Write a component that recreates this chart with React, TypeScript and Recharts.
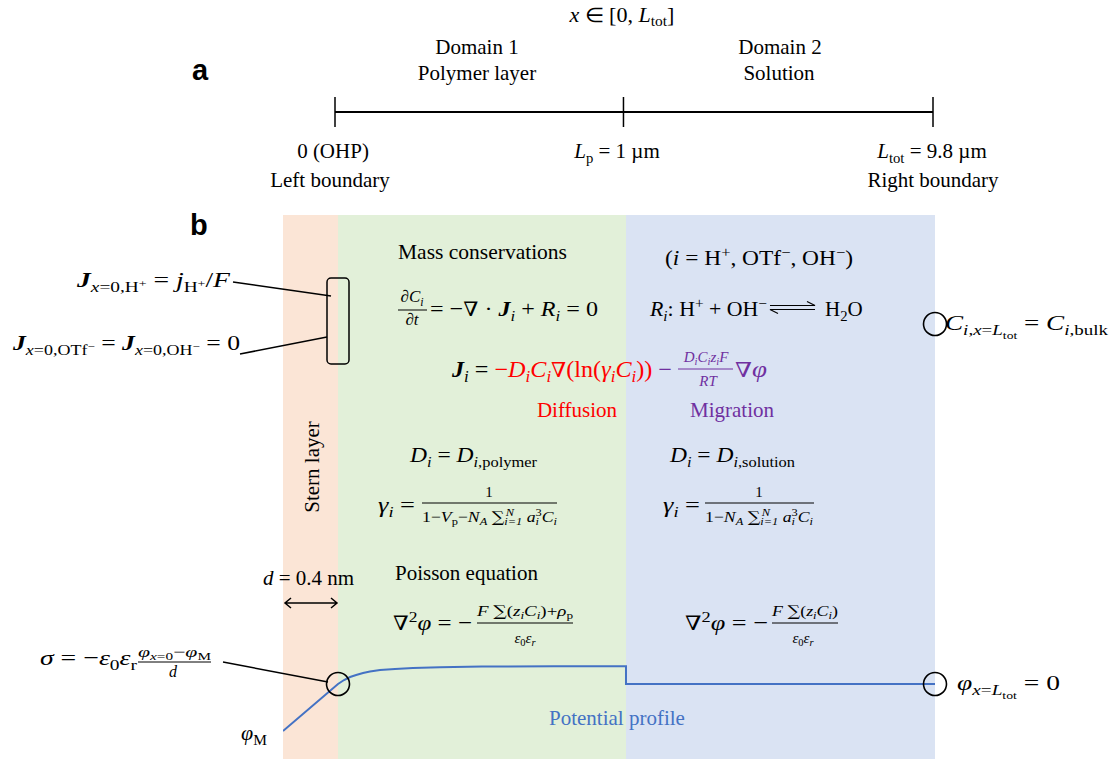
import React from 'react';
import { ComposedChart, Line, XAxis, YAxis, ReferenceArea, ReferenceDot, ReferenceLine } from 'recharts';

const SERIF = "'Liberation Serif', 'Times New Roman', serif";
const SANS = "'Liberation Sans', Arial, sans-serif";
const SYMBOL = "'DejaVu Serif', serif";
const RED = '#FF0000';
const PURPLE = '#7030A0';
const BLUE = '#4472C4';

// ---------- data (schematic units: x in units of L_p, phi arbitrary) ----------
const L_TOT_SCHEMATIC = 2.073;
const STERN_START = -0.191;
const numberLineX = [0, 1, L_TOT_SCHEMATIC];
const regionNames = ['Stern layer', 'Polymer layer', 'Solution'];
const regionEdges = [STERN_START, 0, 1, L_TOT_SCHEMATIC];
const regionColors = ['#FBE5D6', '#E2F0D9', '#DAE3F3'];
const profileX = [-0.191, 0, 0.021, 0.042, 0.063, 0.087, 0.111, 0.146, 0.198, 0.26, 0.354, 0.5, 0.75, 1, 1, 2.073];
const profilePhi = [-0.47, 0, 0.04, 0.07, 0.09, 0.11, 0.125, 0.14, 0.15, 0.16, 0.168, 0.175, 0.177, 0.177, 0, 0];
const boundaryMarkers = [
  { x: 0, phi: 0 },
  { x: L_TOT_SCHEMATIC, phi: 0 },
  { x: L_TOT_SCHEMATIC, phi: 3.6 },
];

const profileData = profileX.map((x, k) => ({ x, phi: profilePhi[k] }));
const numberLineData = numberLineX.map((x) => ({ x, y: 0 }));

// ---------- rich text helper ----------
type Seg = { t: string; i?: boolean; b?: boolean; p?: number; s?: number; c?: string; dx?: number; f?: string };
const N = (t: string, c?: string): Seg => ({ t, c });
const I = (t: string, c?: string): Seg => ({ t, i: true, c });
const B = (t: string, c?: string): Seg => ({ t, i: true, b: true, c });
const SUB = (t: string, i = false, c?: string): Seg => ({ t, p: 0.22, s: 0.7, i, c });
const SUP = (t: string, i = false, c?: string): Seg => ({ t, p: -0.38, s: 0.7, i, c });
const SS = (t: string, i = false): Seg => ({ t, p: 0.4, s: 0.5, i });
const SUBSUP = (t: string): Seg => ({ t, p: 0.02, s: 0.5 });
const NAB = (c?: string): Seg => ({ t: '∇', f: SYMBOL, s: 0.9, c });
const SUM = (): Seg => ({ t: '∑', f: SYMBOL, s: 1.0 });

function Rich(props: {
  x: number; y: number; size: number; segs: Seg[]; anchor?: string; fill?: string; len?: number;
}) {
  const { x, y, size, segs, anchor = 'start', fill = '#000', len } = props;
  let cur = 0;
  return (
    <text
      x={x}
      y={y}
      fontSize={size}
      fontFamily={SERIF}
      textAnchor={anchor as any}
      fill={fill}
      textLength={len}
      lengthAdjust={len ? 'spacingAndGlyphs' : undefined}
      style={{ whiteSpace: 'pre' }}
    >
      {segs.map((g, k) => {
        const off = (g.p || 0) * size;
        const dy = off - cur;
        cur = off;
        return (
          <tspan
            key={k}
            dy={dy !== 0 ? dy : undefined}
            dx={g.dx}
            fontSize={size * (g.s || 1)}
            fontStyle={g.i ? 'italic' : 'normal'}
            fontWeight={g.b ? 'bold' : 'normal'}
            fontFamily={g.f}
            fill={g.c}
          >
            {g.t}
          </tspan>
        );
      })}
    </text>
  );
}

function T(props: { x: number; y: number; size?: number; anchor?: string; fill?: string; children: React.ReactNode }) {
  const { x, y, size = 21, anchor = 'start', fill = '#000', children } = props;
  return (
    <text x={x} y={y} fontSize={size} fontFamily={SERIF} textAnchor={anchor as any} fill={fill}>
      {children}
    </text>
  );
}

function Overlay() {
  return (
    <svg width={1116} height={762} style={{ position: 'absolute', left: 0, top: 0, pointerEvents: 'none' }}>
      {/* panel labels */}
      <text x={192} y={80} fontFamily={SANS} fontWeight="bold" fontSize={29}>a</text>
      <text x={190} y={235} fontFamily={SANS} fontWeight="bold" fontSize={29}>b</text>

      {/* ---------------- panel a ---------------- */}
      <Rich x={622} y={22} size={20} anchor="middle" len={105} segs={[I('x'), N(' ∈ [0, '), I('L'), SUB('tot'), N(']')]} />
      <T x={477} y={54} anchor="middle">Domain 1</T>
      <T x={477} y={80} anchor="middle">Polymer layer</T>
      <T x={780} y={54} anchor="middle">Domain 2</T>
      <T x={779} y={80} anchor="middle">Solution</T>
      <T x={333} y={158} anchor="middle">0 (OHP)</T>
      <T x={330} y={187} anchor="middle">Left boundary</T>
      <Rich x={617} y={158} size={21} anchor="middle" segs={[I('L'), SUB('p'), N(' = 1 µm')]} />
      <Rich x={932} y={158} size={21} anchor="middle" segs={[I('L'), SUB('tot'), N(' = 9.8 µm')]} />
      <T x={933} y={187} anchor="middle">Right boundary</T>

      {/* ---------------- panel b ---------------- */}
      <text x={319} y={467} fontSize={21} fontFamily={SERIF} textAnchor="middle" transform="rotate(-90 319 467)">
        {regionNames[0]}
      </text>

      <T x={398} y={259} size={21.5}>Mass conservations</T>
      <Rich x={665} y={265} size={21} len={188}
        segs={[N('('), I('i'), N(' = H'), SUP('+'), N(', OTf'), SUP('−'), N(', OH'), SUP('−'), N(')')]} />

      {/* dC/dt */}
      <Rich x={412} y={302} size={17} anchor="middle" segs={[N('∂'), I('C'), SUB('i', true)]} />
      <line x1={398} x2={427} y1={310} y2={310} stroke="#000" strokeWidth={1} />
      <Rich x={412} y={325} size={17} anchor="middle" segs={[N('∂'), I('t')]} />
      <Rich x={430} y={316} size={22} len={168}
        segs={[N('= −'), NAB(), N(' · '), B('J'), SUB('i', true), N(' + '), I('R'), SUB('i', true), N(' = 0')]} />

      {/* reaction */}
      <Rich x={650} y={316} size={21} len={117}
        segs={[I('R'), SUB('i', true), N(': H'), SUP('+'), N(' + OH'), SUP('−')]} />
      <path d="M770 305.5 L815 305.5 L807 301.5" fill="none" stroke="#000" strokeWidth={1.2} />
      <path d="M815 309.5 L770 309.5 L778 313.5" fill="none" stroke="#000" strokeWidth={1.2} />
      <Rich x={825} y={316} size={21} segs={[N('H'), SUB('2'), N('O')]} />

      {/* flux */}
      <Rich x={452} y={377} size={23} len={220}
        segs={[
          B('J'), SUB('i', true), N(' = '),
          N('−', RED), I('D', RED), SUB('i', true, RED), I('C', RED), SUB('i', true, RED),
          NAB(RED), N('(ln(', RED), I('γ', RED), SUB('i', true, RED), I('C', RED), SUB('i', true, RED), N('))', RED),
          N(' −', PURPLE),
        ]} />
      <Rich x={706} y={362} size={15} anchor="middle" fill={PURPLE}
        segs={[I('D'), SUB('i', true), I('C'), SUB('i', true), I('z'), SUB('i', true), I('F')]} />
      <line x1={678} x2={733} y1={369} y2={369} stroke={PURPLE} strokeWidth={1} />
      <Rich x={708} y={386} size={15} anchor="middle" fill={PURPLE} segs={[I('RT')]} />
      <Rich x={735} y={377} size={23} fill={PURPLE} len={32} segs={[NAB(), I('φ')]} />
      <T x={577} y={417} anchor="middle" fill={RED}>Diffusion</T>
      <T x={732} y={417} anchor="middle" fill={PURPLE}>Migration</T>

      {/* diffusion coefficients */}
      <Rich x={410} y={462} size={22} len={127}
        segs={[I('D'), SUB('i', true), N(' = '), I('D'), SUB('i', true), SUB(',polymer')]} />
      <Rich x={670} y={462} size={22} len={125}
        segs={[I('D'), SUB('i', true), N(' = '), I('D'), SUB('i', true), SUB(',solution')]} />

      {/* activity coefficients */}
      <Rich x={378} y={512} size={22} len={37} segs={[I('γ'), SUB('i', true), N(' =')]} />
      <T x={489} y={497} size={15} anchor="middle">1</T>
      <line x1={422} x2={557} y1={503} y2={503} stroke="#000" strokeWidth={1} />
      <Rich x={422} y={522} size={15} len={135}
        segs={[
          N('1−'), I('V'), SUB('p'), N('−'), I('N'), SUB('A', true), N(' '), SUM(), SUB('i=1', true),
          { ...SUP('N', true), dx: -14 }, { ...N(' '), dx: 7 }, I('a'), SUB('i', true), { ...SUP('3'), dx: -3 },
          I('C'), SUB('i', true),
        ]} />
      <Rich x={663} y={512} size={22} len={37} segs={[I('γ'), SUB('i', true), N(' =')]} />
      <T x={759} y={497} size={15} anchor="middle">1</T>
      <line x1={705} x2={814} y1={503} y2={503} stroke="#000" strokeWidth={1} />
      <Rich x={705} y={522} size={15} len={108}
        segs={[
          N('1−'), I('N'), SUB('A', true), N(' '), SUM(), SUB('i=1', true),
          { ...SUP('N', true), dx: -14 }, { ...N(' '), dx: 7 }, I('a'), SUB('i', true), { ...SUP('3'), dx: -3 },
          I('C'), SUB('i', true),
        ]} />

      {/* Poisson */}
      <T x={395} y={580}>Poisson equation</T>
      <Rich x={393} y={630} size={22} len={79} segs={[NAB(), SUP('2'), I('φ'), N(' = −')]} />
      <Rich x={477} y={616} size={15} len={96}
        segs={[I('F'), N(' '), SUM(), N('('), I('z'), SUB('i', true), I('C'), SUB('i', true), N(')+'), I('ρ'), SUB('p')]} />
      <line x1={477} x2={573} y1={623} y2={623} stroke="#000" strokeWidth={1} />
      <Rich x={525} y={643} size={15} anchor="middle" segs={[I('ε'), SUB('0'), I('ε'), SUB('r', true)]} />
      <Rich x={685} y={630} size={22} len={83} segs={[NAB(), SUP('2'), I('φ'), N(' = −')]} />
      <Rich x={772} y={616} size={15} len={66}
        segs={[I('F'), N(' '), SUM(), N('('), I('z'), SUB('i', true), I('C'), SUB('i', true), N(')')]} />
      <line x1={772} x2={838} y1={623} y2={623} stroke="#000" strokeWidth={1} />
      <Rich x={803} y={643} size={15} anchor="middle" segs={[I('ε'), SUB('0'), I('ε'), SUB('r', true)]} />

      {/* left boundary conditions */}
      <Rich x={77} y={287} size={22} len={153}
        segs={[B('J'), SUB('x', true), SUB('=0,H'), SUBSUP('+'), N(' = '), I('j'), SUB('H'), SUBSUP('+'), N('/'), I('F')]} />
      <Rich x={13} y={350} size={22} len={227}
        segs={[
          B('J'), SUB('x', true), SUB('=0,OTf'), SUBSUP('−'), N(' = '),
          B('J'), SUB('x', true), SUB('=0,OH'), SUBSUP('−'), N(' = 0'),
        ]} />
      <line x1={233} y1={282} x2={331} y2={296} stroke="#000" strokeWidth={1.5} />
      <line x1={240} y1={354} x2={327} y2={337} stroke="#000" strokeWidth={1.5} />
      <rect x={327} y={278} width={22} height={86} rx={4} ry={4} fill="none" stroke="#000" strokeWidth={1.5} />

      {/* Stern layer thickness */}
      <Rich x={263} y={585} size={21} segs={[I('d'), N(' = 0.4 nm')]} />
      <path d="M285 603 L337 603 M291 598 L285 603 L291 608 M331 598 L337 603 L331 608" fill="none" stroke="#000" strokeWidth={1.5} />

      {/* surface charge */}
      <Rich x={40} y={665} size={22} len={97} segs={[I('σ'), N(' = −'), I('ε'), SUB('0'), I('ε'), SUB('r')]} />
      <Rich x={138} y={657} size={15} len={73}
        segs={[I('φ'), SUB('x', true), SUB('=0'), N('−'), I('φ'), SUB('M')]} />
      <line x1={138} x2={211} y1={662} y2={662} stroke="#000" strokeWidth={1} />
      <Rich x={173} y={677} size={16} anchor="middle" segs={[I('d')]} />
      <line x1={223} y1={662} x2={328} y2={682} stroke="#000" strokeWidth={1.5} />
      <Rich x={241} y={740} size={22} segs={[I('φ'), SUB('M')]} />

      <T x={549} y={725} fill={BLUE}>Potential profile</T>

      {/* right boundary conditions */}
      <Rich x={957} y={690} size={22} len={103}
        segs={[I('φ'), SUB('x', true), SUB('='), SUB('L', true), SS('tot'), N(' = 0')]} />
      <Rich x={945} y={330} size={22} len={163}
        segs={[
          I('C'), SUB('i', true), SUB(','), SUB('x', true), SUB('='), SUB('L', true), SS('tot'),
          N(' = '), I('C'), SUB('i', true), SUB(',bulk'),
        ]} />
    </svg>
  );
}

export default function App() {
  return (
    <div style={{ position: 'absolute', left: 0, top: 0, width: 1116, height: 762, background: '#fff' }}>
      {/* panel a : number line */}
      <div style={{ position: 'absolute', left: 0, top: 0 }}>
        <ComposedChart width={1116} height={200} data={numberLineData} margin={{ top: 0, right: 183, bottom: 0, left: 335 }}>
          <XAxis type="number" dataKey="x" domain={[0, L_TOT_SCHEMATIC]} hide allowDataOverflow />
          <YAxis type="number" domain={[-5.867, 7.467]} hide allowDataOverflow />
          <Line dataKey="y" stroke="#000" strokeWidth={2} dot={false} isAnimationActive={false} type="linear" />
          {numberLineX.map((x) => (
            <ReferenceLine key={x} segment={[{ x, y: -1 }, { x, y: 1 }]} stroke="#000" strokeWidth={1.5} />
          ))}
        </ComposedChart>
      </div>
      {/* panel b : domains and potential profile */}
      <div style={{ position: 'absolute', left: 0, top: 200 }}>
        <ComposedChart width={1116} height={562} data={profileData} margin={{ top: 15, right: 181, bottom: 3, left: 283 }}>
          <XAxis type="number" dataKey="x" domain={[STERN_START, L_TOT_SCHEMATIC]} hide allowDataOverflow />
          <YAxis type="number" domain={[-0.75, 4.69]} hide allowDataOverflow />
          {regionNames.map((name, k) => (
            <ReferenceArea key={name} x1={regionEdges[k]} x2={regionEdges[k + 1]} fill={regionColors[k]} fillOpacity={1} stroke="none" ifOverflow="extendDomain" />
          ))}
          <Line dataKey="phi" stroke={BLUE} strokeWidth={2} dot={false} isAnimationActive={false} type="linear" />
          {boundaryMarkers.map((m, k) => (
            <ReferenceDot key={k} x={m.x} y={m.phi} r={11.5} fill="none" stroke="#000" strokeWidth={1.6} />
          ))}
        </ComposedChart>
      </div>
      <Overlay />
    </div>
  );
}
